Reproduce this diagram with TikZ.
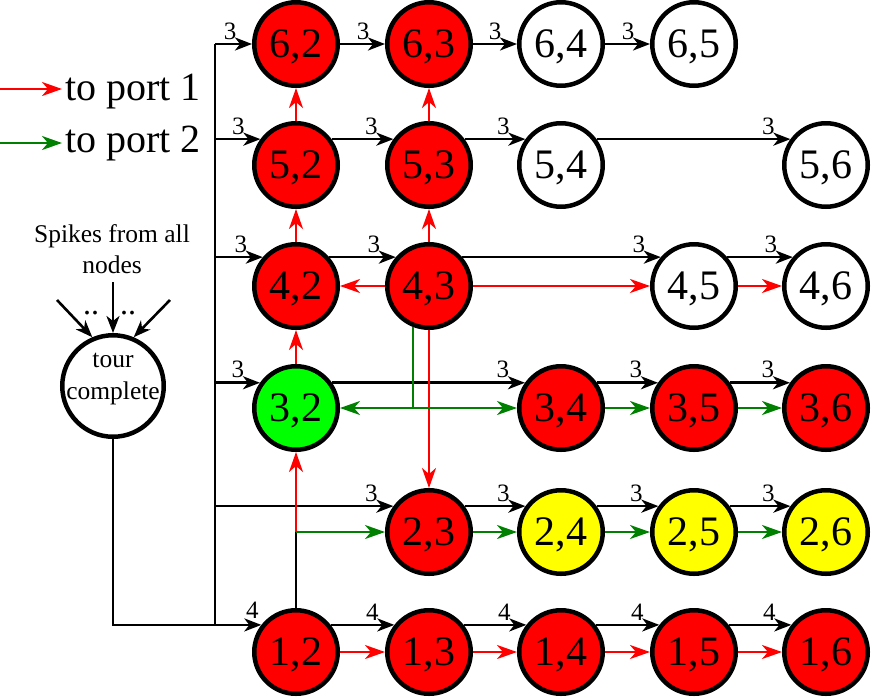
\documentclass[tikz,border=0pt]{standalone}
\usepackage{fontspec}
\setmainfont{Liberation Serif}
\usetikzlibrary{arrows.meta,calc}
\definecolor{myred}{RGB}{255,0,0}
\definecolor{mygreen}{RGB}{0,128,0}
\definecolor{nodegreen}{RGB}{0,255,0}
\definecolor{nodeyellow}{RGB}{255,255,0}
\begin{document}
\begin{tikzpicture}[x=1pt,y=-1pt,
  cell/.style={circle, draw=black, line width=4.5pt, minimum size=83.5pt, inner sep=0pt,
    font=\fontsize{42}{50}\selectfont, text height=27.8pt, text depth=0pt},
  redc/.style={cell, fill=myred},
  grnc/.style={cell, fill=nodegreen},
  yelc/.style={cell, fill=nodeyellow},
  whtc/.style={cell, fill=white},
  blk/.style={draw=black, line width=2.6pt, -{Stealth[length=17pt,width=13pt,inset=5pt]}},
  bline/.style={draw=black, line width=2.6pt},
  rarr/.style={draw=myred, line width=2.3pt, -{Stealth[length=20pt,width=14pt,inset=6pt]}},
  garr/.style={draw=mygreen, line width=2.3pt, -{Stealth[length=20pt,width=14pt,inset=6pt]}},
  gline/.style={draw=mygreen, line width=2.3pt},
  numtxt/.style={font=\fontsize{25}{29}\selectfont, inner sep=0pt},
  num/.style={numtxt, xshift=-22pt, yshift=13pt},
  tourc/.style={circle, draw=black, line width=4.5pt, minimum size=101.5pt, inner sep=0pt, fill=white},
  tourtxt/.style={font=\fontsize{25.5}{32}\selectfont, align=center, inner sep=0pt},
  smalltxt/.style={font=\fontsize{25.5}{30}\selectfont, inner sep=0pt},
  dotstxt/.style={font=\fontsize{32}{34}\selectfont, inner sep=0pt},
  legtxt/.style={font=\fontsize{40}{46}\selectfont, inner sep=0pt},
]
\useasboundingbox (0,0) rectangle (872,697);

% ---------- grid nodes ----------
\node[redc] (n62) at (296,44) {6,2};
\node[redc] (n63) at (429,44) {6,3};
\node[whtc] (n64) at (561,44) {6,4};
\node[whtc] (n65) at (694,44) {6,5};

\node[redc] (n52) at (296,165) {5,2};
\node[redc] (n53) at (429,165) {5,3};
\node[whtc] (n54) at (561,165) {5,4};
\node[whtc] (n56) at (826,165) {5,6};

\node[redc] (n42) at (296,286) {4,2};
\node[redc] (n43) at (429,286) {4,3};
\node[whtc] (n45) at (694,286) {4,5};
\node[whtc] (n46) at (826,286) {4,6};

\node[grnc] (n32) at (296,408) {3,2};
\node[redc] (n34) at (561,408) {3,4};
\node[redc] (n35) at (694,408) {3,5};
\node[redc] (n36) at (826,408) {3,6};

\node[redc] (n23) at (429,532) {2,3};
\node[yelc] (n24) at (561,532) {2,4};
\node[yelc] (n25) at (694,532) {2,5};
\node[yelc] (n26) at (826,532) {2,6};

\node[redc] (n12) at (296,652) {1,2};
\node[redc] (n13) at (429,652) {1,3};
\node[redc] (n14) at (561,652) {1,4};
\node[redc] (n15) at (694,652) {1,5};
\node[redc] (n16) at (826,652) {1,6};

% ---------- tour complete ----------
\node[tourc] (tour) at (113,386) {};
\node[tourtxt] (tourlbl) at ([yshift=6.5pt]tour.center) {tour\\complete};
\node[smalltxt, anchor=base] (sp1) at (112,242) {Spikes from all};
\node[smalltxt, anchor=base] (sp2) at (112,273) {nodes};
\node[dotstxt, anchor=base] (d1) at (91,314) {..};
\node[dotstxt, anchor=base] (d2) at (128,314) {..};
\coordinate (s1) at (57,300);
\coordinate (s2) at (113,282);
\coordinate (s3) at (170,300);
\draw[blk] (s1) -- (tour.113);
\draw[blk] (s2) -- (tour.north);
\draw[blk] (s3) -- (tour.67);

% ---------- legend ----------
\coordinate (l1s) at (0,89);
\coordinate (l1e) at (62,89);
\coordinate (l2s) at (0,143);
\coordinate (l2e) at (62,143);
\draw[rarr] (l1s) -- (l1e);
\draw[garr] (l2s) -- (l2e);
\node[legtxt, anchor=base west] (leg1) at (65,100) {to port 1};
\node[legtxt, anchor=base west] (leg2) at (65,152) {to port 2};

% ---------- black bus and connectors ----------
\coordinate (bt) at (215,44);
\draw[bline] (bt) -- (bt |- n12.142);

% row 6
\draw[blk] (bt) -- (n62.west) node[num,pos=1] {3};
\draw[blk] (n62.east) -- (n63.west) node[num,pos=1] {3};
\draw[blk] (n63.east) -- (n64.west) node[num,pos=1] {3};
\draw[blk] (n64.east) -- (n65.west) node[num,pos=1] {3};
% row 5
\draw[blk] (bt |- n52.144) -- (n52.144) node[num,pos=1] {3};
\draw[blk] (n52.36) -- (n53.144) node[num,pos=1] {3};
\draw[blk] (n53.36) -- (n54.144) node[num,pos=1] {3};
\draw[blk] (n54.36) -- (n56.144) node[num,pos=1] {3};
% row 4
\draw[blk] (bt |- n42.139) -- (n42.139) node[num,pos=1] {3};
\draw[blk] (n42.41) -- (n43.139) node[num,pos=1] {3};
\draw[blk] (n43.41) -- (n45.139) node[num,pos=1] {3};
\draw[blk] (n45.41) -- (n46.139) node[num,pos=1] {3};
% row 3
\draw[blk] (bt |- n32.145) -- (n32.145) node[num,pos=1] {3};
\draw[blk] (n32.35) -- (n34.145) node[num,pos=1] {3};
\draw[blk] (n34.35) -- (n35.145) node[num,pos=1] {3};
\draw[blk] (n35.35) -- (n36.145) node[num,pos=1] {3};
% row 2
\draw[blk] (bt |- n23.144) -- (n23.144) node[num,pos=1] {3};
\draw[blk] (n23.36) -- (n24.144) node[num,pos=1] {3};
\draw[blk] (n24.36) -- (n25.144) node[num,pos=1] {3};
\draw[blk] (n25.36) -- (n26.144) node[num,pos=1] {3};
% row 1
\draw[blk] (tour.south) |- (n12.142) node[numtxt,pos=1,xshift=-9pt,yshift=15pt] {4};
\draw[blk] (n12.38) -- (n13.142) node[num,pos=1] {4};
\draw[blk] (n13.38) -- (n14.142) node[num,pos=1] {4};
\draw[blk] (n14.38) -- (n15.142) node[num,pos=1] {4};
\draw[blk] (n15.38) -- (n16.142) node[num,pos=1] {4};

\coordinate (j) at (n12.north |- n23.west);
\draw[bline] (n12.north) -- (j);

% ---------- red (port 1) ----------
\draw[rarr] (j) -- (n32.south);
\draw[rarr] (n32.north) -- (n42.south);
\draw[rarr] (n42.north) -- (n52.south);
\draw[rarr] (n52.north) -- (n62.south);
\draw[rarr] (n43.north) -- (n53.south);
\draw[rarr] (n53.north) -- (n63.south);
\draw[rarr] (n43.west) -- (n42.east);
\draw[rarr] (n43.east) -- (n45.west);
\draw[rarr] (n45.east) -- (n46.west);
\draw[rarr] (n43.south) -- (n23.north);
\draw[rarr] (n12.east) -- (n13.west);
\draw[rarr] (n13.east) -- (n14.west);
\draw[rarr] (n14.east) -- (n15.west);
\draw[rarr] (n15.east) -- (n16.west);

% ---------- green (port 2) ----------
\coordinate (g) at (n43.249 |- n34.west);
\draw[gline] (n43.249) -- (g);
\draw[garr] (g) -- (n32.east);
\draw[garr] (g) -- (n34.west);
\draw[garr] (n34.east) -- (n35.west);
\draw[garr] (n35.east) -- (n36.west);
\draw[garr] (j) -- (n23.west);
\draw[garr] (n23.east) -- (n24.west);
\draw[garr] (n24.east) -- (n25.west);
\draw[garr] (n25.east) -- (n26.west);
\end{tikzpicture}
\end{document}
